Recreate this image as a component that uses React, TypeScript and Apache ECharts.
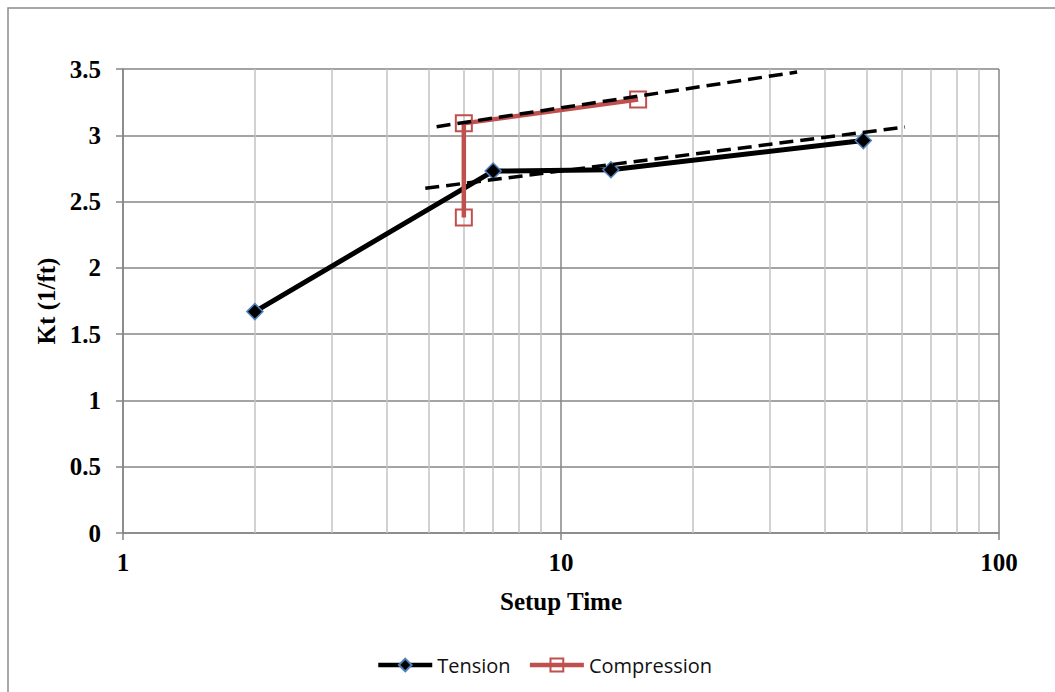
import React, { useEffect, useRef } from "react";
import * as echarts from "echarts";

const tension: [number, number][] = [
  [2, 1.67],
  [7, 2.73],
  [13, 2.74],
  [49, 2.96],
];
const compression: [number, number][] = [
  [6, 2.38],
  [6, 3.09],
  [15, 3.27],
];
const trendCompression: [number, number][] = [
  [5.2, 3.065],
  [34.6, 3.477],
];
const trendTension: [number, number][] = [
  [4.9, 2.6],
  [61, 3.062],
];
const minorX: number[] = [2, 3, 4, 5, 6, 7, 8, 9, 20, 30, 40, 50, 60, 70, 80, 90];

const SERIF = "'Liberation Serif', 'Times New Roman', serif";
const SANS = "'Open Sans', 'Liberation Sans', sans-serif";

export default function App() {
  const ref = useRef<HTMLDivElement>(null);
  useEffect(() => {
    if (!ref.current) return;
    const chart = echarts.init(ref.current, null, { renderer: "svg" });
    chart.setOption({
      animation: false,
      backgroundColor: "#ffffff",
      graphic: [
        {
          type: "rect",
          shape: { x: 8, y: 8, width: 1100, height: 740 },
          style: { fill: "none", stroke: "#8c8c8c", lineWidth: 1.5 },
          silent: true,
          z: -10,
        },
      ],
      grid: { left: 123, top: 69, right: 56, bottom: 159 },
      legend: {
        left: 371,
        top: 650,
        itemWidth: 54,
        itemHeight: 16,
        itemGap: 17,
        data: ["Tension", "Compression"],
        lineStyle: { width: 4.5 },
        textStyle: { fontFamily: SANS, fontSize: 20, color: "#111" },
      },
      xAxis: {
        type: "log",
        logBase: 10,
        min: 1,
        max: 100,
        name: "Setup Time",
        nameLocation: "middle",
        nameGap: 56,
        nameTextStyle: { fontFamily: SERIF, fontSize: 25, fontWeight: "bold", color: "#000" },
        axisLine: { show: true, lineStyle: { color: "#868686", width: 1.5 } },
        axisTick: { show: true, length: 7, lineStyle: { color: "#868686", width: 1.5 } },
        axisLabel: { fontFamily: SERIF, fontSize: 25, fontWeight: "bold", color: "#000", margin: 17 },
        splitLine: { show: true, lineStyle: { color: "#868686", width: 1.5 } },
      },
      yAxis: {
        type: "value",
        min: 0,
        max: 3.5,
        interval: 0.5,
        name: "Kt (1/ft)",
        nameLocation: "middle",
        nameGap: 64,
        nameTextStyle: { fontFamily: SERIF, fontSize: 25, fontWeight: "bold", color: "#000" },
        axisLine: { show: true, lineStyle: { color: "#868686", width: 1.5 } },
        axisTick: { show: true, length: 7, lineStyle: { color: "#868686", width: 1.5 } },
        axisLabel: { fontFamily: SERIF, fontSize: 25, fontWeight: "bold", color: "#000", margin: 22 },
        splitLine: { show: true, lineStyle: { color: "#868686", width: 1.5 } },
      },
      series: [
        {
          name: "grid-minor",
          type: "line",
          data: [],
          silent: true,
          z: 1,
          markLine: {
            silent: true,
            z: 1,
            symbol: "none",
            label: { show: false },
            lineStyle: { color: "#c3c3c3", width: 1.5, type: "solid" },
            data: minorX.map((v) => ({ xAxis: v })),
          },
        },
        {
          name: "Tension",
          type: "line",
          data: tension,
          z: 10,
          color: "#000000",
          lineStyle: { color: "#000000", width: 5 },
          symbol: "diamond",
          symbolSize: 16,
          itemStyle: { color: "#000000", borderColor: "#4f81bd", borderWidth: 1.5 },
        },
        {
          name: "Compression",
          type: "line",
          data: compression,
          z: 10,
          color: "#c0504d",
          lineStyle: { color: "#c0504d", width: 4.5 },
          symbol: "rect",
          symbolSize: 16,
          itemStyle: { color: "rgba(255,255,255,0)", borderColor: "#c0504d", borderWidth: 2 },
        },
        {
          name: "trend-c",
          type: "line",
          data: trendCompression,
          z: 12,
          symbol: "none",
          silent: true,
          lineStyle: { color: "#000000", width: 3.5, type: [14, 7] },
        },
        {
          name: "trend-t",
          type: "line",
          data: trendTension,
          z: 12,
          symbol: "none",
          silent: true,
          lineStyle: { color: "#000000", width: 3.5, type: [14, 7] },
        },
      ],
    });
    return () => chart.dispose();
  }, []);
  return (
    <div
      ref={ref}
      style={{ position: "fixed", left: 0, top: 0, width: 1055, height: 692 }}
    />
  );
}
